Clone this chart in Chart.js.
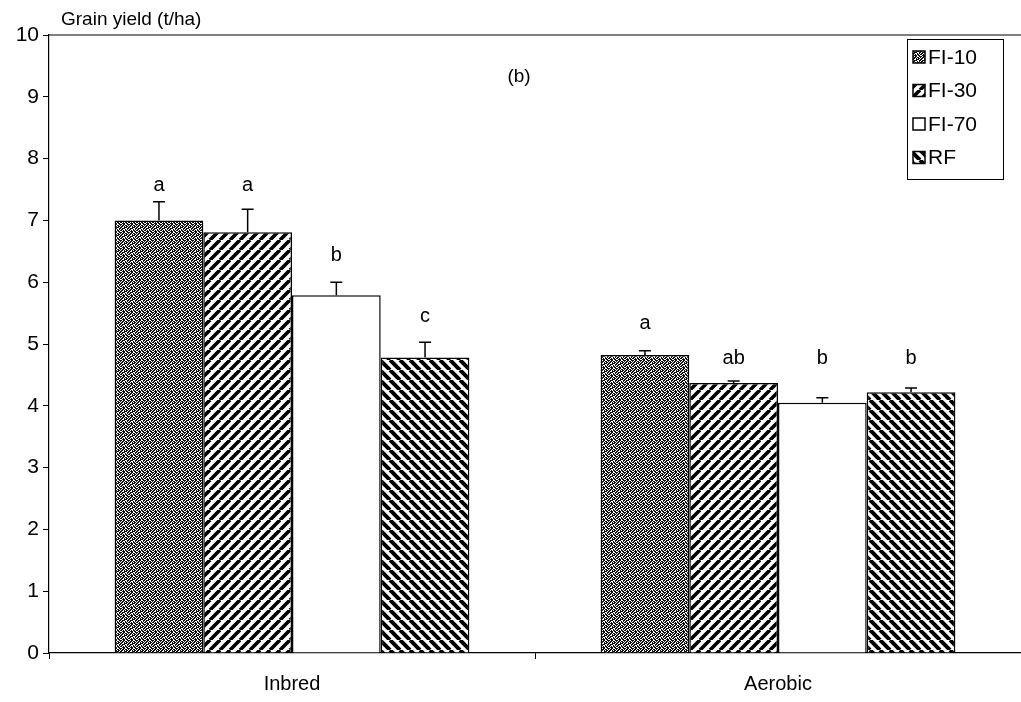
<!DOCTYPE html>
<html>
<head>
<meta charset="utf-8">
<script src="https://cdn.jsdelivr.net/npm/chart.js@4"></script>
<style>
  html, body { margin: 0; padding: 0; background: #fff; }
  #wrap { width: 1021px; height: 702px; position: relative; }
</style>
</head>
<body>
<div id="wrap"><canvas id="yield-chart"></canvas></div>
<script>
// data //
//////////
var groups = ["Inbred", "Aerobic"]
var treatments = ["FI-10", "FI-30", "FI-70", "RF"]

var fi10 = [7.0, 4.82]
var fi30 = [6.81, 4.37]
var fi70 = [5.79, 4.05]
var rf = [4.78, 4.22]

// standard error (upper whisker only)
var fi10Err = [0.3, 0.07]
var fi30Err = [0.37, 0.03]
var fi70Err = [0.21, 0.08]
var rfErr = [0.25, 0.07]

// significance letters and the height they sit at (t/ha)
var fi10Sig = ["a", "a"]
var fi30Sig = ["a", "ab"]
var fi70Sig = ["b", "b"]
var rfSig = ["c", "b"]
var fi10SigAt = [7.57, 5.34]
var fi30SigAt = [7.57, 4.77]
var fi70SigAt = [6.44, 4.77]
var rfSigAt = [5.44, 4.77]

var yTicks = [0, 1, 2, 3, 4, 5, 6, 7, 8, 9, 10]

const FONT = "'Liberation Sans', Arial, sans-serif"

// patterns //
//////////////
function makeTile(w, h, draw) {
    var c = document.createElement("canvas")
    c.width = w
    c.height = h
    var g = c.getContext("2d")
    g.fillStyle = "#fff"
    g.fillRect(0, 0, w, h)
    draw(g, w, h)
    return g.createPattern(c, "repeat")
}

// stipple, fixed bitmap
var stippleMap = [
    "11011001",
    "10110110",
    "01101011",
    "11001110",
    "10111001",
    "01100101",
    "11010110",
    "00111011"
]
var stipple = makeTile(8, 8, function (g) {
    g.fillStyle = "#111"
    for (var r = 0; r < 8; r++) {
        for (var c = 0; c < 8; c++) {
            if (stippleMap[r][c] === "1") g.fillRect(c, r, 1, 1)
        }
    }
})

function hatch(dir, size, lw) {
    return makeTile(size, size, function (g, w, h) {
        g.strokeStyle = "#000"
        g.lineWidth = lw
        g.beginPath()
        for (var k = -1; k <= 1; k++) {
            if (dir > 0) {
                g.moveTo(k * w, h)
                g.lineTo(k * w + w, 0)
            } else {
                g.moveTo(k * w, 0)
                g.lineTo(k * w + w, h)
            }
        }
        g.stroke()
    })
}
var forward = hatch(1, 10, 3.6)
var back = hatch(-1, 10, 4.0)

var fills = [stipple, forward, "#fff", back]
var values = [fi10, fi30, fi70, rf]
var errors = [fi10Err, fi30Err, fi70Err, rfErr]
var letters = [fi10Sig, fi30Sig, fi70Sig, rfSig]
var letterAt = [fi10SigAt, fi30SigAt, fi70SigAt, rfSigAt]

const data = {
    labels: groups,
    datasets: treatments.map(function (t, i) {
        return {
            label: t,
            data: values[i],
            backgroundColor: fills[i],
            borderColor: "#000",
            borderWidth: 1.5,
            borderSkipped: "bottom"
        }
    })
};

// extras: error bars, letters, legend, frame //
///////////////////////////////////////////////
const extras = {
    id: "extras",
    afterDatasetsDraw(chart) {
        var ctx = chart.ctx
        var y = chart.scales.y
        var area = chart.chartArea
        ctx.save()

        // top frame line
        ctx.strokeStyle = "#000"
        ctx.lineWidth = 1.2
        ctx.beginPath()
        ctx.moveTo(area.left, area.top)
        ctx.lineTo(area.right, area.top)
        ctx.stroke()

        chart.data.datasets.forEach(function (ds, i) {
            var meta = chart.getDatasetMeta(i)
            meta.data.forEach(function (bar, j) {
                var top = y.getPixelForValue(ds.data[j] + errors[i][j])
                ctx.strokeStyle = "#000"
                ctx.lineWidth = 1.5
                ctx.beginPath()
                ctx.moveTo(bar.x, bar.y)
                ctx.lineTo(bar.x, top)
                ctx.moveTo(bar.x - 6, top)
                ctx.lineTo(bar.x + 6, top)
                ctx.stroke()

                ctx.fillStyle = "#000"
                ctx.font = "20px " + FONT
                ctx.textAlign = "center"
                ctx.textBaseline = "middle"
                ctx.fillText(letters[i][j], bar.x, y.getPixelForValue(letterAt[i][j]))
            })
        })

        // panel tag + axis title
        ctx.textBaseline = "alphabetic"
        ctx.font = "19px " + FONT
        ctx.textAlign = "center"
        ctx.fillText("(b)", 519, 82)
        ctx.font = "19px " + FONT
        ctx.textAlign = "left"
        ctx.fillText("Grain yield (t/ha)", 61, 25)

        // legend
        ctx.lineWidth = 1
        ctx.strokeRect(907.5, 39.5, 96, 140)
        chart.data.datasets.forEach(function (ds, i) {
            var ly = 57 + i * 33.5
            ctx.fillStyle = ds.backgroundColor
            ctx.fillRect(913, ly - 6, 12, 12)
            ctx.strokeStyle = "#000"
            ctx.lineWidth = 1.5
            ctx.strokeRect(913, ly - 6, 12, 12)
            ctx.fillStyle = "#000"
            ctx.font = "21px " + FONT
            ctx.textAlign = "left"
            ctx.textBaseline = "middle"
            ctx.fillText(ds.label, 928, ly + 1)
        })
        ctx.restore()
    }
}

const YieldConfigBarChart = {
    type: "bar",
    data,
    options: {
        responsive: true,
        maintainAspectRatio: false,
        animation: false,
        layout: {
            padding: { top: 35, right: 0, left: 0, bottom: 0 }
        },
        datasets: {
            bar: {
                categoryPercentage: 0.73,
                barPercentage: 1.0
            }
        },
        scales: {
            x: {
                grid: {
                    offset: true,
                    drawOnChartArea: false,
                    tickLength: 6,
                    color: "#000"
                },
                border: { color: "#000", width: 1.2 },
                ticks: {
                    color: "#000",
                    padding: 13,
                    font: { family: FONT, size: 20 }
                },
                afterFit: function (s) { s.height = 49 }
            },
            y: {
                min: 0,
                max: 10,
                afterBuildTicks: function (s) {
                    s.ticks = yTicks.map(function (v) { return { value: v } })
                },
                grid: {
                    drawOnChartArea: false,
                    tickLength: 6,
                    color: "#000"
                },
                border: { color: "#000", width: 1.2 },
                ticks: {
                    color: "#000",
                    padding: 4,
                    font: { family: FONT, size: 21 }
                },
                afterFit: function (s) { s.width = 49 }
            }
        },
        plugins: {
            legend: { display: false },
            tooltip: { enabled: false }
        }
    },
    plugins: [extras]
};

var chart = new Chart(
    document.getElementById("yield-chart"),
    YieldConfigBarChart
);
</script>
</body>
</html>
